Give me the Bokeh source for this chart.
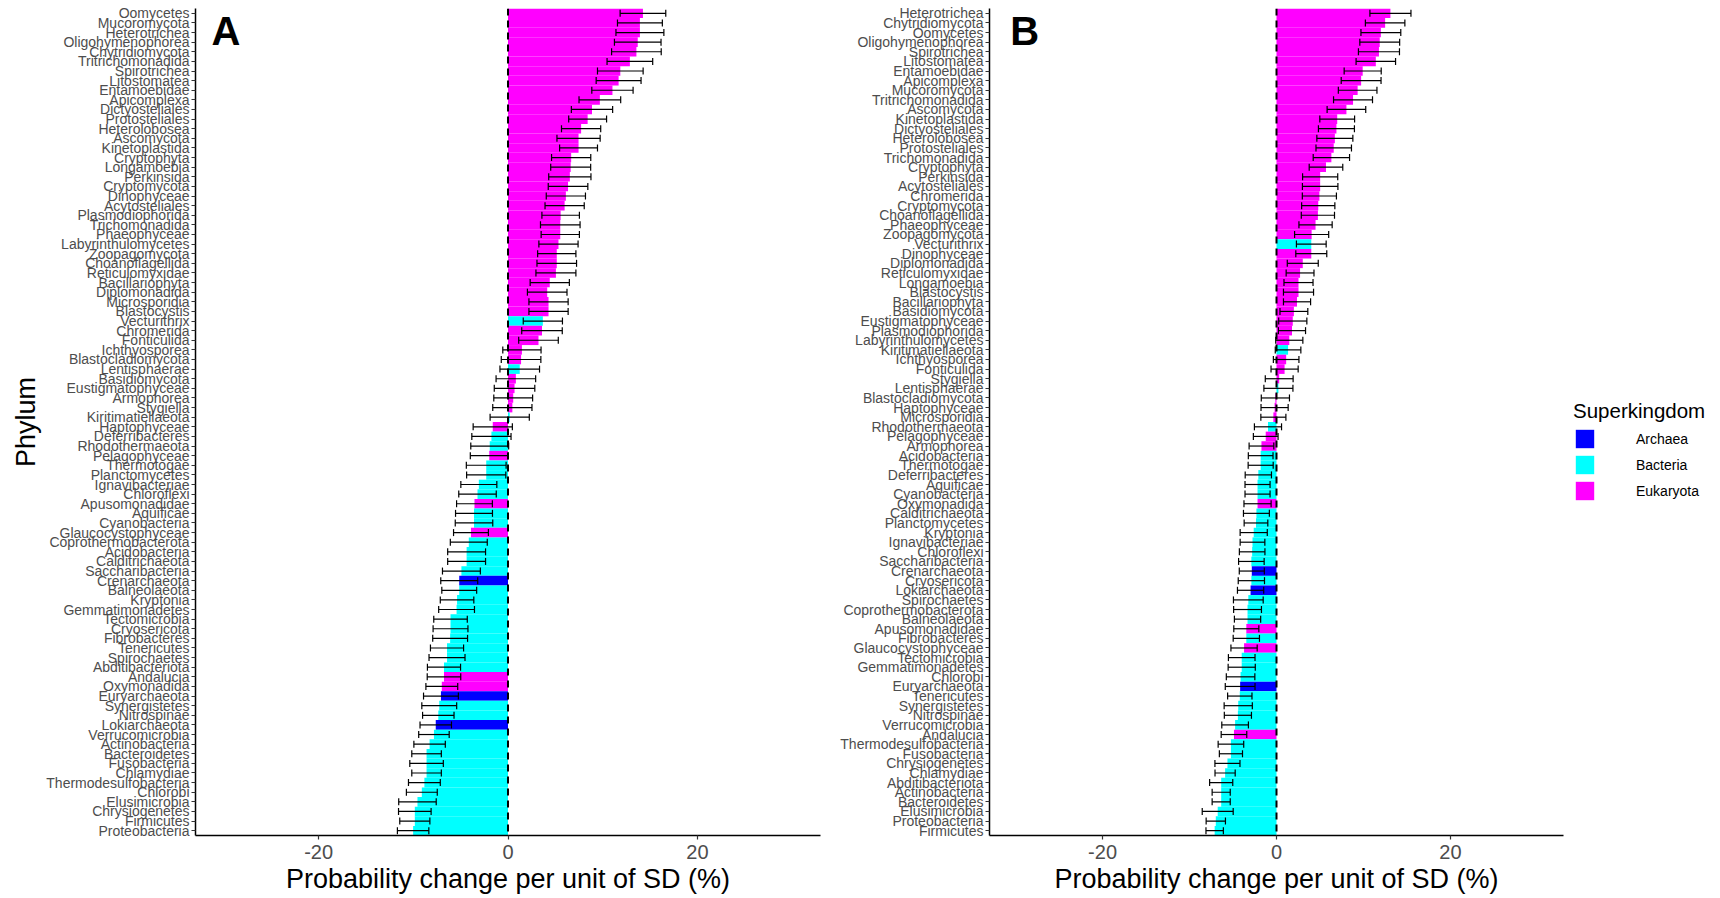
from bokeh.plotting import figure
from bokeh.models import (FactorRange, Range1d, Span, Whisker, TeeHead, ColumnDataSource,
                          Legend, LegendItem, Label, FixedTicker)
from bokeh.layouts import row
from bokeh.embed import file_html
from bokeh.resources import INLINE

# ---------------- data ----------------
a_phylum = ["Oomycetes", "Mucoromycota", "Heterotrichea", "Oligohymenophorea", "Chytridiomycota",
            "Tritrichomonadida", "Spirotrichea", "Litostomatea", "Entamoebidae", "Apicomplexa",
            "Dictyosteliales", "Protosteliales", "Heterolobosea", "Ascomycota", "Kinetoplastida",
            "Cryptophyta", "Longamoebia", "Perkinsida", "Cryptomycota", "Dinophyceae",
            "Acytosteliales", "Plasmodiophorida", "Trichomonadida", "Phaeophyceae", "Labyrinthulomycetes",
            "Zoopagomycota", "Choanoflagellida", "Reticulomyxidae", "Bacillariophyta", "Diplomonadida",
            "Microsporidia", "Blastocystis", "Vecturithrix", "Chromerida", "Fonticulida",
            "Ichthyosporea", "Blastocladiomycota", "Lentisphaerae", "Basidiomycota", "Eustigmatophyceae",
            "Armophorea", "Stygiella", "Kiritimatiellaeota", "Haptophyceae", "Deferribacteres",
            "Rhodothermaeota", "Pelagophyceae", "Thermotogae", "Planctomycetes", "Ignavibacteriae",
            "Chloroflexi", "Apusomonadidae", "Aquificae", "Cyanobacteria", "Glaucocystophyceae",
            "Coprothermobacterota", "Acidobacteria", "Calditrichaeota", "Saccharibacteria", "Crenarchaeota",
            "Balneolaeota", "Kryptonia", "Gemmatimonadetes", "Tectomicrobia", "Cryosericota",
            "Fibrobacteres", "Tenericutes", "Spirochaetes", "Abditibacteriota", "Andalucia",
            "Oxymonadida", "Euryarchaeota", "Synergistetes", "Nitrospinae", "Lokiarchaeota",
            "Verrucomicrobia", "Actinobacteria", "Bacteroidetes", "Fusobacteria", "Chlamydiae",
            "Thermodesulfobacteria", "Chlorobi", "Elusimicrobia", "Chrysiogenetes", "Firmicutes",
            "Proteobacteria"]
a_value = [14.25, 13.93, 13.93, 13.7, 13.56, 12.87, 11.86, 11.68, 11.03, 9.7,
           8.87, 8.41, 7.72, 7.45, 7.45, 6.67, 6.62, 6.53, 6.34, 6.11,
           5.98, 5.56, 5.52, 5.52, 5.33, 5.15, 5.15, 5.06, 4.41, 4.14,
           4.28, 4.28, 3.68, 3.59, 3.22, 1.47, 1.38, 1.24, 0.83, 0.69,
           0.55, 0.46, 0.18, -1.61, -1.75, -1.93, -1.98, -2.3, -2.3, -3.08,
           -3.22, -3.54, -3.59, -3.59, -3.91, -4.14, -4.37, -4.37, -4.92, -5.15,
           -5.15, -5.38, -5.43, -6.07, -6.07, -6.11, -6.44, -6.44, -6.76, -6.76,
           -6.99, -7.08, -7.26, -7.36, -7.63, -7.82, -8.28, -8.6, -8.6, -8.6,
           -8.83, -9.1, -9.56, -9.84, -9.84, -10.02]
a_err = [2.41, 2.37, 2.53, 2.46, 2.62, 2.41, 2.41, 2.37, 2.18, 2.2,
         2.18, 2.0, 2.07, 2.28, 2.0, 2.07, 2.11, 2.23, 2.09, 2.07,
         2.07, 1.98, 2.09, 2.02, 2.07, 2.02, 2.09, 2.11, 2.07, 2.09,
         2.07, 2.07, 2.07, 2.14, 2.09, 2.02, 2.09, 2.09, 2.09, 2.14,
         2.05, 2.07, 2.07, 2.07, 2.07, 2.0, 2.0, 2.1, 2.07, 1.9,
         1.98, 1.89, 1.95, 1.98, 1.84, 1.95, 2.0, 2.0, 2.0, 1.95,
         1.84, 1.77, 1.89, 1.77, 1.84, 1.84, 1.75, 1.9, 1.75, 1.77,
         1.68, 1.84, 1.84, 1.66, 1.66, 1.61, 1.66, 1.56, 1.77, 1.56,
         1.68, 1.63, 1.98, 1.72, 1.59, 1.66]

b_phylum = ["Heterotrichea", "Chytridiomycota", "Oomycetes", "Oligohymenophorea", "Spirotrichea",
            "Litostomatea", "Entamoebidae", "Apicomplexa", "Mucoromycota", "Tritrichomonadida",
            "Ascomycota", "Kinetoplastida", "Dictyosteliales", "Heterolobosea", "Protosteliales",
            "Trichomonadida", "Cryptophyta", "Perkinsida", "Acytosteliales", "Chromerida",
            "Cryptomycota", "Choanoflagellida", "Phaeophyceae", "Zoopagomycota", "Vecturithrix",
            "Dinophyceae", "Diplomonadida", "Reticulomyxidae", "Longamoebia", "Blastocystis",
            "Bacillariophyta", "Basidiomycota", "Eustigmatophyceae", "Plasmodiophorida", "Labyrinthulomycetes",
            "Kiritimatiellaeota", "Ichthyosporea", "Fonticulida", "Stygiella", "Lentisphaerae",
            "Blastocladiomycota", "Haptophyceae", "Microsporidia", "Rhodothermaeota", "Pelagophyceae",
            "Armophorea", "Acidobacteria", "Thermotogae", "Deferribacteres", "Aquificae",
            "Cyanobacteria", "Oxymonadida", "Calditrichaeota", "Planctomycetes", "Kryptonia",
            "Ignavibacteriae", "Chloroflexi", "Saccharibacteria", "Crenarchaeota", "Cryosericota",
            "Lokiarchaeota", "Spirochaetes", "Coprothermobacterota", "Balneolaeota", "Apusomonadidae",
            "Fibrobacteres", "Glaucocystophyceae", "Tectomicrobia", "Gemmatimonadetes", "Chlorobi",
            "Euryarchaeota", "Tenericutes", "Synergistetes", "Nitrospinae", "Verrucomicrobia",
            "Andalucia", "Thermodesulfobacteria", "Fusobacteria", "Chrysiogenetes", "Chlamydiae",
            "Abditibacteriota", "Actinobacteria", "Bacteroidetes", "Elusimicrobia", "Proteobacteria",
            "Firmicutes"]
b_value = [13.1, 12.49, 12.0, 11.87, 11.78, 11.42, 9.91, 9.73, 9.33, 8.8,
           8.04, 6.98, 6.89, 6.71, 6.58, 6.31, 5.69, 5.02, 5.02, 4.93,
           4.8, 4.76, 4.49, 4.04, 4.0, 4.0, 3.02, 2.71, 2.53, 2.53,
           2.36, 2.0, 1.87, 1.78, 1.47, 1.33, 1.11, 0.93, 0.31, 0.22,
           -0.13, -0.22, -0.36, -0.98, -1.24, -1.73, -1.82, -1.82, -2.09, -2.18,
           -2.18, -2.18, -2.31, -2.36, -2.62, -2.76, -2.8, -2.89, -2.84, -2.89,
           -2.98, -3.24, -3.33, -3.33, -3.47, -3.47, -3.73, -4.0, -4.0, -4.13,
           -4.18, -4.22, -4.4, -4.44, -4.76, -4.89, -5.24, -5.24, -5.64, -5.91,
           -6.36, -6.36, -6.36, -6.76, -6.98, -7.11]
b_err = [2.36, 2.27, 2.29, 2.29, 2.36, 2.27, 2.13, 2.29, 2.22, 2.24,
         2.22, 2.0, 2.07, 2.07, 2.04, 2.09, 1.93, 2.02, 2.04, 1.96,
         1.91, 1.91, 1.91, 1.96, 1.71, 1.78, 1.78, 1.6, 1.67, 1.73,
         1.56, 1.6, 1.62, 1.56, 1.56, 1.47, 1.47, 1.56, 1.6, 1.67,
         1.62, 1.56, 1.44, 1.56, 1.42, 1.42, 1.42, 1.44, 1.51, 1.44,
         1.44, 1.56, 1.49, 1.36, 1.56, 1.42, 1.47, 1.47, 1.44, 1.51,
         1.51, 1.71, 1.6, 1.51, 1.44, 1.51, 1.51, 1.53, 1.56, 1.64,
         1.71, 1.4, 1.62, 1.56, 1.53, 1.47, 1.47, 1.33, 1.44, 1.16,
         1.33, 1.04, 1.04, 1.78, 1.11, 1.0]

archaea = ["Crenarchaeota", "Euryarchaeota", "Lokiarchaeota"]
bacteria = ["Vecturithrix", "Lentisphaerae", "Kiritimatiellaeota", "Deferribacteres", "Rhodothermaeota",
            "Thermotogae", "Planctomycetes", "Ignavibacteriae", "Chloroflexi", "Aquificae",
            "Cyanobacteria", "Coprothermobacterota", "Acidobacteria", "Calditrichaeota", "Saccharibacteria",
            "Balneolaeota", "Kryptonia", "Gemmatimonadetes", "Tectomicrobia", "Cryosericota",
            "Fibrobacteres", "Tenericutes", "Spirochaetes", "Abditibacteriota", "Synergistetes",
            "Nitrospinae", "Verrucomicrobia", "Actinobacteria", "Bacteroidetes", "Fusobacteria",
            "Chlamydiae", "Thermodesulfobacteria", "Chlorobi", "Elusimicrobia", "Chrysiogenetes",
            "Firmicutes", "Proteobacteria"]
kingdoms = ["Archaea", "Bacteria", "Eukaryota"]
kingdom_colors = ["#0000FF", "#00FFFF", "#FF00FF"]

x_limits = (-33, 33)
x_ticks = [-20, 0, 20]
x_title = "Probability change per unit of SD (%)"

FONT = "Liberation Sans"
TXT = "#4D4D4D"
FIG_H = 896


def kingdom_of(name):
    if name in archaea:
        return "Archaea"
    if name in bacteria:
        return "Bacteria"
    return "Eukaryota"


def make_panel(phyla, vals, errs, width, left_border, right_border, ylabel, letter, letter_x):
    cmap = dict(zip(kingdoms, kingdom_colors))
    src = ColumnDataSource(dict(
        phylum=phyla,
        value=vals,
        lower=[v - e for v, e in zip(vals, errs)],
        upper=[v + e for v, e in zip(vals, errs)],
        color=[cmap[kingdom_of(p)] for p in phyla],
    ))
    p = figure(width=width, height=FIG_H, y_range=FactorRange(factors=list(reversed(phyla))),
               x_range=Range1d(*x_limits), toolbar_location=None, output_backend="svg",
               min_border_left=left_border, min_border_right=right_border,
               min_border_top=8, min_border_bottom=60)
    p.hbar(y="phylum", right="value", left=0, height=1.0, fill_color="color",
           line_color=None, source=src)
    wh = Whisker(source=src, base="phylum", lower="lower", upper="upper", dimension="width",
                 line_color="black", line_width=1.2, level="annotation",
                 upper_head=TeeHead(size=7, line_color="black", line_width=1.2),
                 lower_head=TeeHead(size=7, line_color="black", line_width=1.2))
    p.add_layout(wh)
    p.add_layout(Span(location=0, dimension="height", line_color="black",
                      line_dash="7 5", line_width=2, level="overlay"))

    p.grid.visible = False
    p.outline_line_color = None
    p.background_fill_color = "white"

    p.xaxis.ticker = FixedTicker(ticks=x_ticks)
    p.xaxis.major_label_overrides = {t: str(t) for t in x_ticks}
    p.xaxis.major_label_text_font = FONT
    p.xaxis.major_label_text_font_size = "20px"
    p.xaxis.major_label_text_color = TXT
    p.xaxis.major_label_standoff = 5
    p.xaxis.minor_tick_line_color = None
    p.xaxis.axis_label = x_title
    p.xaxis.axis_label_text_font = FONT
    p.xaxis.axis_label_text_font_size = "27px"
    p.xaxis.axis_label_text_font_style = "normal"
    p.xaxis.axis_label_text_color = "black"
    p.xaxis.axis_label_standoff = 2

    p.yaxis.major_label_text_font = FONT
    p.yaxis.major_label_text_font_size = "14px"
    p.yaxis.major_label_text_color = TXT
    p.yaxis.major_label_standoff = 2
    if ylabel:
        p.yaxis.axis_label = ylabel
        p.yaxis.axis_label_text_font = FONT
        p.yaxis.axis_label_text_font_size = "27px"
        p.yaxis.axis_label_text_font_style = "normal"
        p.yaxis.axis_label_text_color = "black"
        p.yaxis.axis_label_standoff = 2

    for ax in (p.xaxis, p.yaxis):
        ax.axis_line_color = "black"
        ax.axis_line_width = 1.5
        ax.major_tick_line_color = "#333333"
        ax.major_tick_line_width = 1.2
        ax.major_tick_out = 4
        ax.major_tick_in = 0

    # panel letter
    p.add_layout(Label(x=letter_x, y=len(phyla), text=letter, text_baseline="top",
                       text_font=FONT, text_font_size="40px", text_font_style="bold",
                       text_color="black"))
    return p


pA = make_panel(a_phylum, a_value, a_err, 830, 195, 10, "Phylum", "A", -31.3)
pB = make_panel(b_phylum, b_value, b_err, 741, 159, 8, None, "B", -30.6)

# legend panel
pL = figure(width=147, height=FIG_H, x_range=(0, 1), y_range=(0, 1), toolbar_location=None,
            output_backend="svg", min_border=0, x_axis_location=None, y_axis_location=None)
pL.grid.visible = False
pL.outline_line_color = None
items = []
for k, c in zip(kingdoms, kingdom_colors):
    # one off-screen swatch per kingdom, only used to draw the legend key
    r = pL.rect(x=[-5], y=[-5], width=1, height=1, fill_color=c, line_color=None)
    items.append(LegendItem(label=k, renderers=[r]))
leg = Legend(items=items, location=(2, 333), title="Superkingdom",
             title_text_font=FONT, title_text_font_size="20.5px", title_text_font_style="normal",
             title_text_color="black", title_standoff=4,
             label_text_font=FONT, label_text_font_size="14px", label_text_color="black",
             glyph_width=23, glyph_height=23, spacing=3, label_standoff=40,
             padding=0, margin=0, border_line_color=None, background_fill_alpha=0)
pL.add_layout(leg)

layout = row(pA, pB, pL)
open("out.html", "w").write(file_html(layout, INLINE))
